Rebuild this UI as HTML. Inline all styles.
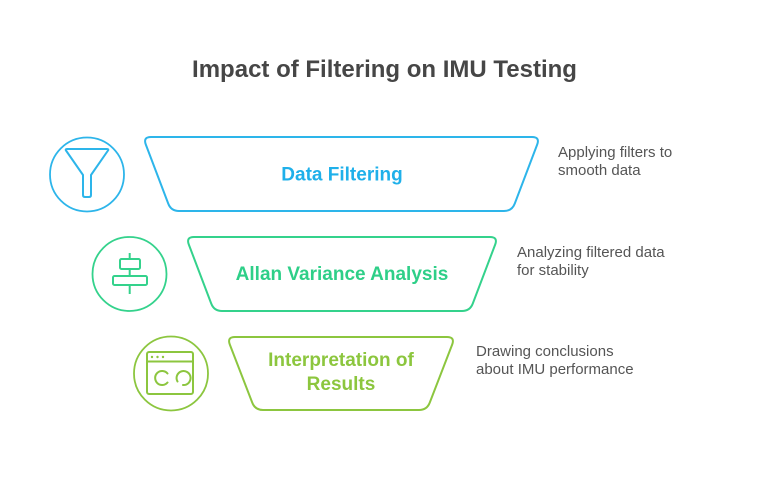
<!DOCTYPE html>
<html>
<head>
<meta charset="utf-8">
<style>
  html, body { margin:0; padding:0; background:#fff; }
  body { width:768px; height:485px; overflow:hidden; }
  svg { display:block; }
  text { font-family: "Liberation Sans", Arial, sans-serif; }
</style>
</head>
<body>
<svg width="768" height="485" viewBox="0 0 768 485" xmlns="http://www.w3.org/2000/svg">
  <rect width="768" height="485" fill="#ffffff"/>

  <!-- Title -->
  <text x="384.5" y="77" text-anchor="middle" font-size="24" font-weight="bold" fill="#464646">Impact of Filtering on IMU Testing</text>

  <!-- Row 1 (blue) -->
  <circle cx="87" cy="174.5" r="37" fill="none" stroke="#2db5ea" stroke-width="1.8"/>
  <path d="M67,149 L107,149 Q109,149 108,150.5 L91,175 L91,195 Q91,197 89,197 L85,197 Q83,197 83,195 L83,175 L66,150.5 Q65,149 67,149 Z" fill="none" stroke="#2db5ea" stroke-width="2" stroke-linejoin="round"/>
  <path d="M151,137 L532,137 Q540,137 537.2,144.5 L514.8,203.5 Q512,211 504,211 L179,211 Q171,211 168.2,203.5 L145.8,144.5 Q143,137 151,137 Z" fill="none" stroke="#2db5ea" stroke-width="2"/>
  <text x="342" y="180.5" text-anchor="middle" font-size="19" font-weight="bold" fill="#1fb0ea">Data Filtering</text>
  <text x="558" y="157" font-size="15" fill="#555555">Applying filters to</text>
  <text x="558" y="175" font-size="15" fill="#555555">smooth data</text>

  <!-- Row 2 (green) -->
  <circle cx="129.5" cy="274" r="37" fill="none" stroke="#34d28c" stroke-width="1.8"/>
  <line x1="129.7" y1="253" x2="129.7" y2="259" stroke="#34d28c" stroke-width="2"/>
  <line x1="129.7" y1="269" x2="129.7" y2="276" stroke="#34d28c" stroke-width="2"/>
  <line x1="129.7" y1="285" x2="129.7" y2="294" stroke="#34d28c" stroke-width="2"/>
  <rect x="120" y="259" width="20" height="10" rx="1.5" fill="none" stroke="#34d28c" stroke-width="2"/>
  <rect x="113" y="276" width="34" height="9" rx="1.5" fill="none" stroke="#34d28c" stroke-width="2"/>
  <path d="M194,237 L490,237 Q498,237 495.2,244.5 L472.8,303.5 Q470,311 462,311 L222,311 Q214,311 211.2,303.5 L188.8,244.5 Q186,237 194,237 Z" fill="none" stroke="#34d28c" stroke-width="2"/>
  <text x="342" y="280" text-anchor="middle" font-size="19" font-weight="bold" fill="#2ecf88">Allan Variance Analysis</text>
  <text x="517" y="257" font-size="15" fill="#555555">Analyzing filtered data</text>
  <text x="517" y="275" font-size="15" fill="#555555">for stability</text>

  <!-- Row 3 (lime) -->
  <circle cx="171" cy="373.5" r="37" fill="none" stroke="#8cc63f" stroke-width="1.8"/>
  <rect x="147" y="352" width="46" height="42" rx="2" fill="none" stroke="#8cc63f" stroke-width="2"/>
  <line x1="147" y1="361.5" x2="193" y2="361.5" stroke="#8cc63f" stroke-width="2"/>
  <circle cx="152" cy="357" r="1.2" fill="#8cc63f"/>
  <circle cx="157.5" cy="357" r="1.2" fill="#8cc63f"/>
  <circle cx="163" cy="357" r="1.2" fill="#8cc63f"/>
  <path d="M167.5,373.5 A7,7 0 1 0 167.5,382.5" fill="none" stroke="#8cc63f" stroke-width="2" stroke-linecap="round"/>
  <path d="M177.5,381.5 A7,7 0 1 1 183,385" fill="none" stroke="#8cc63f" stroke-width="2" stroke-linecap="round"/>
  <path d="M235,337 L447,337 Q455,337 452.2,344.5 L429.8,402.5 Q427,410 419,410 L263,410 Q255,410 252.2,402.5 L229.8,344.5 Q227,337 235,337 Z" fill="none" stroke="#8cc63f" stroke-width="2"/>
  <text x="341" y="366" text-anchor="middle" font-size="19" font-weight="bold" fill="#8cc63e">Interpretation of</text>
  <text x="341" y="390" text-anchor="middle" font-size="19" font-weight="bold" fill="#8cc63e">Results</text>
  <text x="476" y="356" font-size="15" fill="#555555">Drawing conclusions</text>
  <text x="476" y="374" font-size="15" fill="#555555">about IMU performance</text>
</svg>
</body>
</html>
